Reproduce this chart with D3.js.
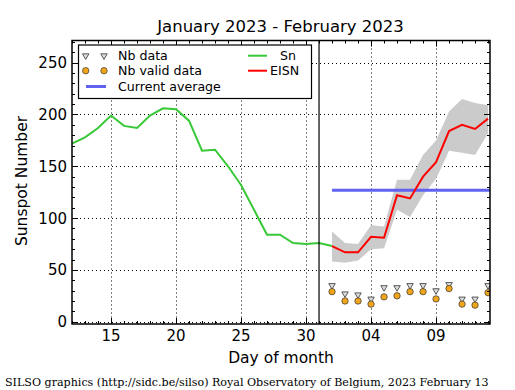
<!DOCTYPE html>
<html><head><meta charset="utf-8">
<script src="https://cdn.jsdelivr.net/npm/d3@7"></script>
<style>body{margin:0;background:#fff}svg{display:block}</style>
</head><body>
<script>
const snDays = [12,13,14,15,16,17,18,19,20,21,22,23,24,25,26,27,28,29,30,31,32];
const snValues = [172,178,187,199,189,187,199,206,205,194,165,166,150,132,108,84,84,76,75,76,73];
const eisnDays = [32,33,34,35,36,37,38,39,40,41,42,43,44];
const eisnValues = [73,67,67,82,81,122,119,140,154,184,190,186,196];
const eisnHigh = [87,76,75,93,92,137,137,161,175,203,215,211,209];
const eisnLow = [58,57,59,70,71,108,101,122,138,165,163,161,182];
const nbData = [35,27,26,22,33,33,35,35,30,36,22,22,35];
const nbValid = [29,20,20,17,24,25,29,29,22,32,17,16,28];
const currentAverage = 127;
const xTickDays = [15,20,25,30,35,40];
const xTickLabels = ["15","20","25","30","04","09"];
const yTicks = [0,50,100,150,200,250];

const W = 515, H = 390;
const L = 72, R = 490, T = 40.5, B = 324;
const svg = d3.select("body").append("svg").attr("width", W).attr("height", H)
  .style("font-family", "DejaVu Sans, sans-serif");

const x = d3.scaleLinear().domain([12, 44.15]).range([L, R]);
const y = d3.scaleLinear().domain([-2.2, 271.4]).range([B, T]);

const defs = svg.append("defs");
defs.append("clipPath").attr("id", "clip").append("rect")
  .attr("x", L).attr("y", T).attr("width", R - L).attr("height", B - T);

// grid
const grid = svg.append("g").attr("stroke", "#000").attr("stroke-width", 1)
  .attr("stroke-dasharray", "1,3");
xTickDays.forEach(d => grid.append("line").attr("x1", Math.round(x(d))+0.5).attr("x2", Math.round(x(d))+0.5).attr("y1", T).attr("y2", B));
yTicks.forEach(v => grid.append("line").attr("y1", Math.round(y(v))+0.5).attr("y2", Math.round(y(v))+0.5).attr("x1", L).attr("x2", R));

const plot = svg.append("g").attr("clip-path", "url(#clip)");

// band
const idx = d3.range(eisnDays.length);
plot.append("path")
  .attr("d", d3.area().x(i => x(eisnDays[i])).y0(i => y(eisnLow[i])).y1(i => y(eisnHigh[i]))(idx))
  .attr("fill", "#cbcbcb").attr("stroke", "none");

// vertical line at day 31
svg.append("line").attr("x1", x(31)).attr("x2", x(31)).attr("y1", T).attr("y2", B)
  .attr("stroke", "#000").attr("stroke-width", 1.2);

// current average
plot.append("line").attr("x1", x(32)).attr("x2", R).attr("y1", y(currentAverage)).attr("y2", y(currentAverage))
  .attr("stroke", "#6262f0").attr("stroke-width", 3);

// Sn
plot.append("path")
  .attr("d", d3.line().x((d, i) => x(snDays[i])).y(d => y(d))(snValues))
  .attr("fill", "none").attr("stroke", "#38c838").attr("stroke-width", 2);

// EISN
plot.append("path")
  .attr("d", d3.line().x((d, i) => x(eisnDays[i])).y(d => y(d))(eisnValues))
  .attr("fill", "none").attr("stroke", "#ff0000").attr("stroke-width", 2);

// markers
const tri = d3.symbol().type(d3.symbolTriangle).size(18);
nbData.forEach((v, i) => {
  plot.append("path").attr("d", tri())
    .attr("transform", `translate(${x(eisnDays[i])},${y(v)}) rotate(180)`)
    .attr("fill", "#ddd").attr("stroke", "#333").attr("stroke-width", 0.8);
});
nbValid.forEach((v, i) => {
  plot.append("circle").attr("cx", x(eisnDays[i])).attr("cy", y(v)).attr("r", 3.2)
    .attr("fill", "#f0a51a").attr("stroke", "#333").attr("stroke-width", 0.7);
});

// ticks (inward, all sides)
const tk = svg.append("g").attr("stroke", "#000").attr("stroke-width", 1);
for (let d = 12; d <= 44; d++) {
  const major = xTickDays.includes(d);
  const len = major ? 6 : 3;
  const xx = Math.round(x(d)) + 0.5;
  tk.append("line").attr("x1", xx).attr("x2", xx).attr("y1", B).attr("y2", B - len);
  tk.append("line").attr("x1", xx).attr("x2", xx).attr("y1", T).attr("y2", T + len);
}
for (let v = 0; v <= 270; v += 10) {
  const major = v % 50 === 0;
  const len = major ? 6 : 3;
  const yy = Math.round(y(v)) + 0.5;
  tk.append("line").attr("x1", L).attr("x2", L + len).attr("y1", yy).attr("y2", yy);
  tk.append("line").attr("x1", R).attr("x2", R - len).attr("y1", yy).attr("y2", yy);
}

// frame
svg.append("rect").attr("x", L).attr("y", T).attr("width", R - L).attr("height", B - T)
  .attr("fill", "none").attr("stroke", "#000").attr("stroke-width", 1.5);

// tick labels
xTickDays.forEach((d, i) => svg.append("text").attr("x", x(d)).attr("y", 341)
  .attr("text-anchor", "middle").attr("font-size", 15).text(xTickLabels[i]));
yTicks.forEach(v => svg.append("text").attr("x", 67).attr("y", y(v) + 5.5)
  .attr("text-anchor", "end").attr("font-size", 15).text(v));

// axis labels & title
svg.append("text").attr("x", 281).attr("y", 363).attr("text-anchor", "middle")
  .attr("font-size", 15.5).text("Day of month");
svg.append("text").attr("transform", "translate(27,181) rotate(-90)").attr("text-anchor", "middle")
  .attr("font-size", 15.5).text("Sunspot Number");
svg.append("text").attr("x", 280.5).attr("y", 32).attr("text-anchor", "middle")
  .attr("font-size", 16.5).text("January 2023 - February 2023");
svg.append("text").attr("x", 5).attr("y", 386).attr("font-family", "DejaVu Serif, serif")
  .attr("font-size", 11.1).text("SILSO graphics (http://sidc.be/silso) Royal Observatory of Belgium, 2023 February 13");

// legend
const lg = svg.append("g");
lg.append("rect").attr("x", 78.5).attr("y", 45).attr("width", 233).attr("height", 53.5)
  .attr("fill", "#fff").attr("stroke", "#000").attr("stroke-width", 1.2);
[85.7, 104].forEach(px => {
  lg.append("path").attr("d", tri()).attr("transform", `translate(${px},55.7) rotate(180)`)
    .attr("fill", "#ddd").attr("stroke", "#333").attr("stroke-width", 0.8);
  lg.append("circle").attr("cx", px).attr("cy", 70.7).attr("r", 3.2)
    .attr("fill", "#f0a51a").attr("stroke", "#333").attr("stroke-width", 0.7);
});
lg.append("line").attr("x1", 86).attr("x2", 106).attr("y1", 86.5).attr("y2", 86.5)
  .attr("stroke", "#6262f0").attr("stroke-width", 3);
lg.append("line").attr("x1", 248).attr("x2", 267).attr("y1", 55.7).attr("y2", 55.7)
  .attr("stroke", "#38c838").attr("stroke-width", 2);
lg.append("line").attr("x1", 248).attr("x2", 267).attr("y1", 70.7).attr("y2", 70.7)
  .attr("stroke", "#ff0000").attr("stroke-width", 2);
const lt = [["Nb data",118,55.7],["Nb valid data",118,70.7],["Current average",118,86.5],["Sn",280,55.7],["EISN",270,70.7]];
lt.forEach(([t, px, py]) => lg.append("text").attr("x", px).attr("y", py + 4.5)
  .attr("font-size", 12.6).text(t));
</script>
</body></html>
